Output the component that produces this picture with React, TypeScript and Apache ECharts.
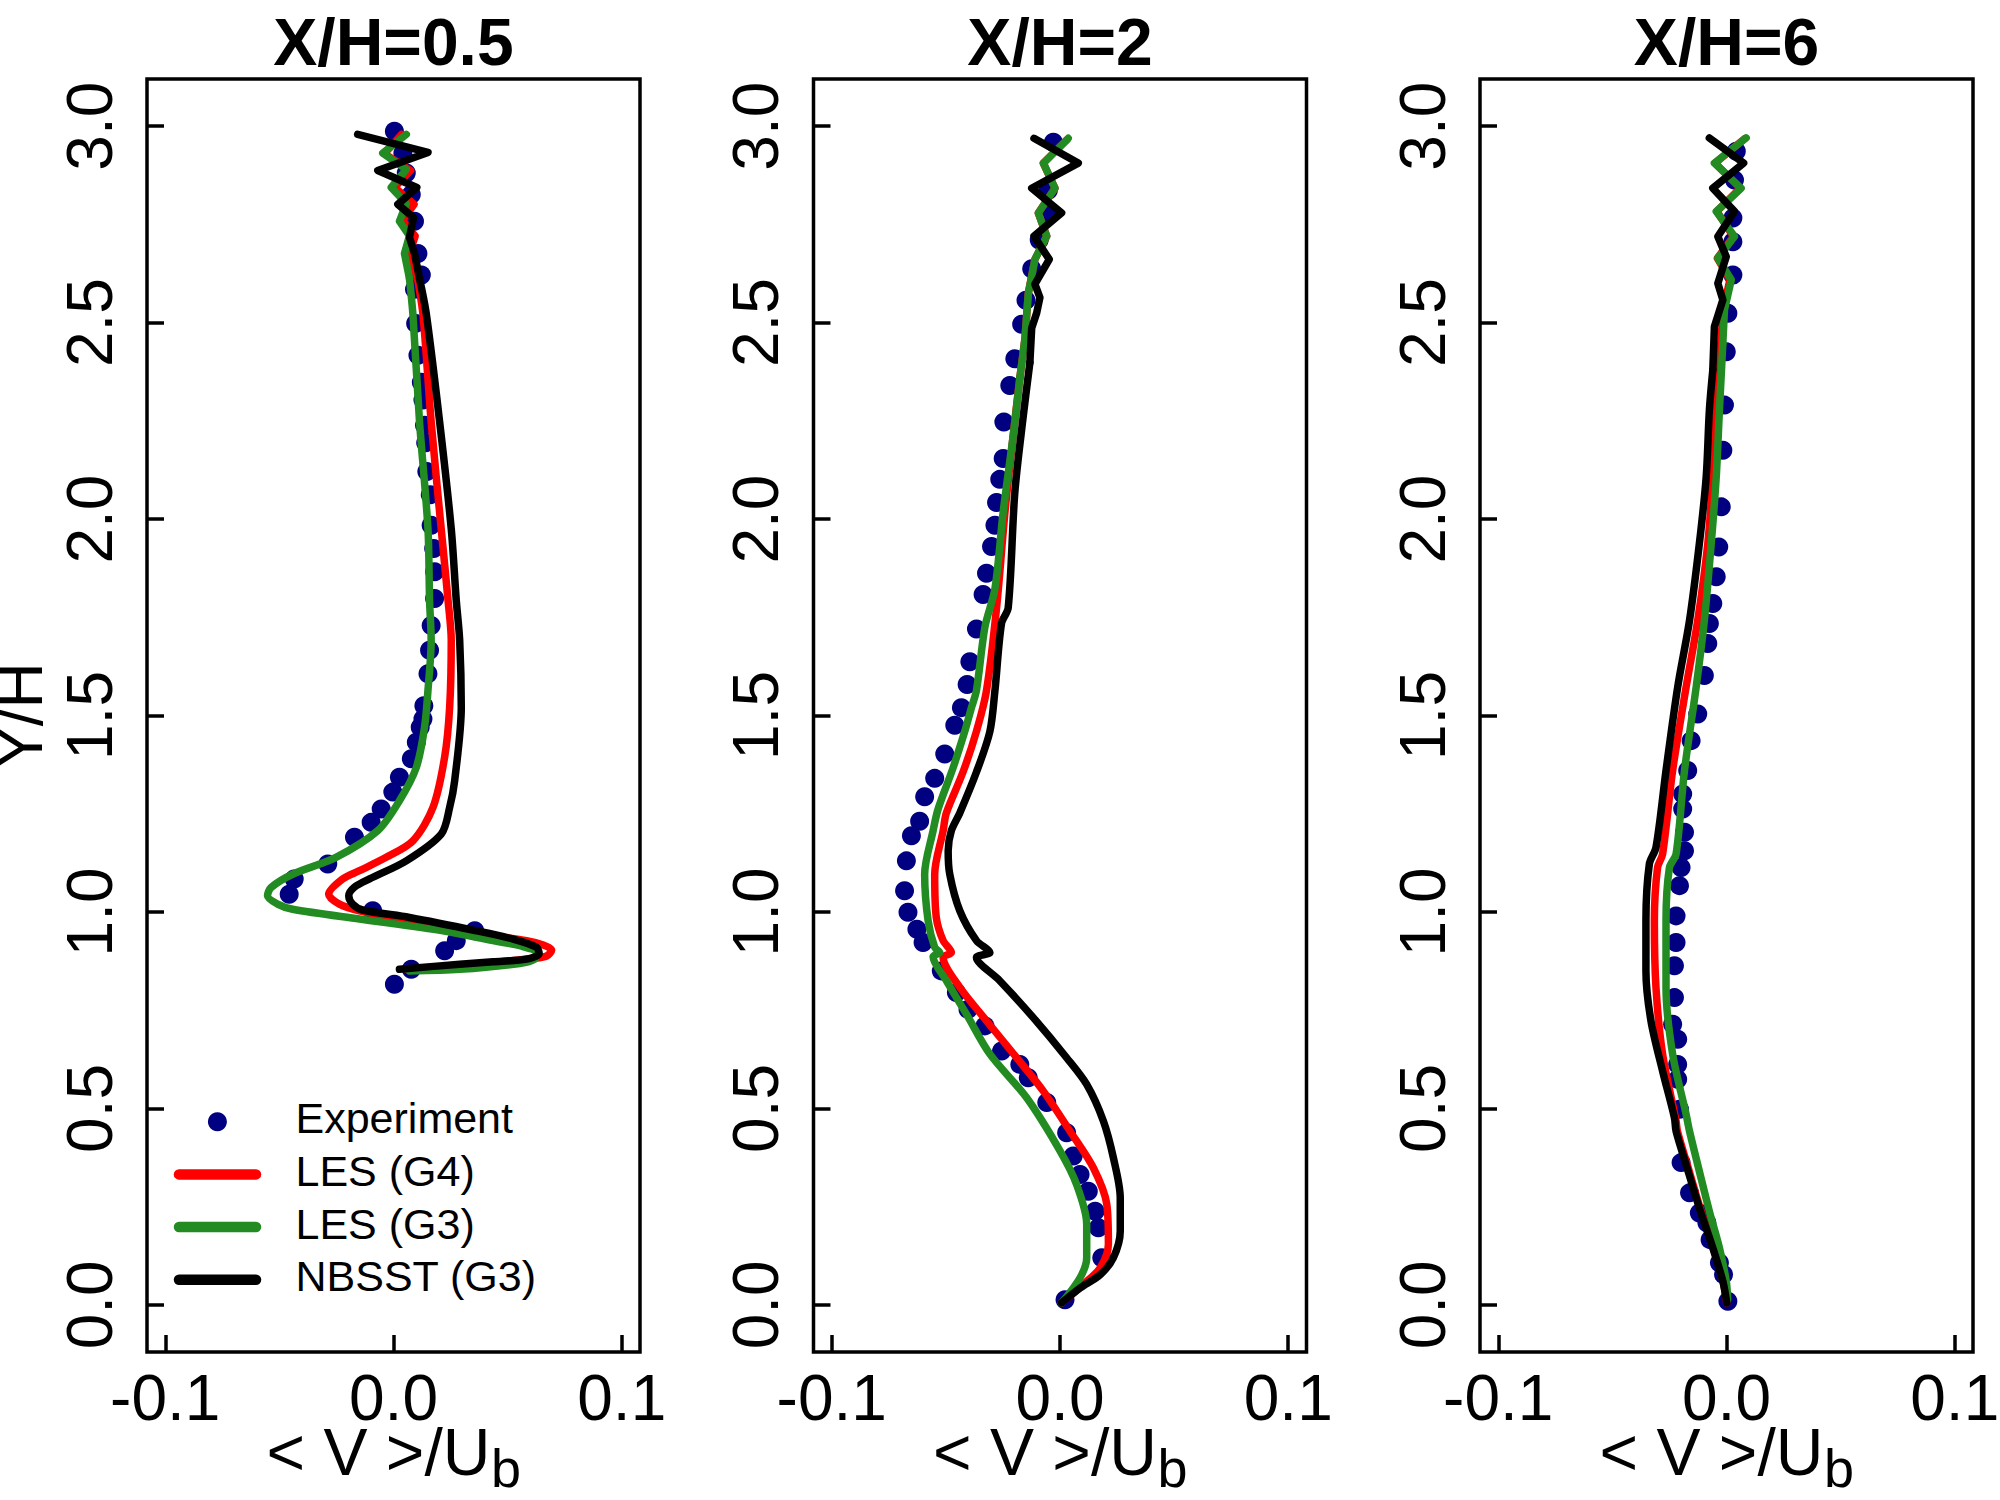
import React, { useEffect, useRef } from "react";
import * as echarts from "echarts";

const FONT = "'Liberation Sans', Arial, Helvetica, sans-serif";

const panelTitles = ["X/H=0.5", "X/H=2", "X/H=6"];
const xTicks = [-0.1, 0, 0.1];
const yTicks = [0, 0.5, 1, 1.5, 2, 2.5, 3];
const legendLabels = ["Experiment", "LES (G4)", "LES (G3)", "NBSST (G3)"];
const seriesColors = ["#000080", "#FF0000", "#228B22", "#000000"];
const xNameMain = "< V >/U";
const xNameSub = "b";
const yName = "Y/H";
// below this Y/H the simulated profiles are smooth (above it they oscillate)
const zigzagLimit = [2.62, 2.45, 2.45];

// ---------- X/H = 0.5 ----------
const p1Exp = [
  [0.0004, 2.987], [0.0041, 2.931], [0.0056, 2.881], [0.0078, 2.826], [0.0092, 2.758],
  [0.0107, 2.676], [0.0122, 2.621], [0.0092, 2.585], [0.0097, 2.498], [0.0107, 2.417],
  [0.0122, 2.348], [0.0129, 2.303], [0.0136, 2.239], [0.0141, 2.194], [0.0146, 2.121],
  [0.0161, 2.062], [0.0165, 1.984], [0.0176, 1.925], [0.018, 1.866], [0.018, 1.798],
  [0.0165, 1.729], [0.0158, 1.666], [0.0151, 1.606], [0.0133, 1.525], [0.0129, 1.491],
  [0.0117, 1.47], [0.01, 1.432], [0.0078, 1.39], [0.0026, 1.343], [-0.0003, 1.305],
  [-0.0054, 1.262], [-0.0098, 1.228], [-0.0171, 1.19], [-0.0288, 1.122], [-0.0435, 1.084],
  [-0.0457, 1.045], [-0.0091, 1.003], [0.0356, 0.952], [0.0275, 0.927], [0.0224, 0.901],
  [0.0078, 0.854], [0.0004, 0.816],
];
const p1LesG4 = [
  [0.0035, 2.979], [-0.004, 2.93], [0.0075, 2.887], [0.0005, 2.844], [0.009, 2.801],
  [0.004, 2.76], [0.0095, 2.72], [0.007, 2.676], [0.0105, 2.612], [0.0129, 2.521],
  [0.0165, 2.248], [0.0209, 1.975], [0.0239, 1.793], [0.0253, 1.691], [0.0246, 1.521],
  [0.0224, 1.394], [0.0173, 1.266], [0.0085, 1.181], [-0.0032, 1.139], [-0.0149, 1.105],
  [-0.0223, 1.084], [-0.0284, 1.045], [-0.0237, 1.02], [-0.0149, 1.003], [0.0026, 0.982],
  [0.0217, 0.961], [0.0436, 0.939], [0.0583, 0.927], [0.0656, 0.916], [0.0693, 0.903],
  [0.0671, 0.888], [0.0612, 0.882], [0.0436, 0.871], [0.029, 0.863], [0.0056, 0.854],
];
const p1LesG3 = [
  [0.0056, 2.979], [-0.0047, 2.931], [0.0056, 2.89], [-0.001, 2.844], [0.0056, 2.803],
  [0.0026, 2.758], [0.007, 2.721], [0.0048, 2.676], [0.007, 2.612], [0.0085, 2.521],
  [0.0114, 2.248], [0.0151, 1.975], [0.0158, 1.793], [0.0165, 1.691], [0.0151, 1.564],
  [0.0136, 1.47], [0.01, 1.368], [0.0026, 1.283], [-0.0069, 1.207], [-0.0252, 1.139],
  [-0.0442, 1.096], [-0.0537, 1.062], [-0.0552, 1.041], [-0.0508, 1.02], [-0.0442, 1.007],
  [-0.0149, 0.982], [0.0217, 0.952], [0.0436, 0.927], [0.0553, 0.914], [0.0627, 0.897],
  [0.0619, 0.88], [0.0553, 0.869], [0.029, 0.854], [0.007, 0.85],
];
const p1Nbsst = [
  [-0.0157, 2.979], [0.0151, 2.933], [-0.0069, 2.887], [0.0102, 2.844], [0.0019, 2.801],
  [0.0088, 2.767], [0.007, 2.717], [0.0092, 2.676], [0.0114, 2.612], [0.0144, 2.521],
  [0.0202, 2.248], [0.0253, 1.975], [0.0275, 1.793], [0.029, 1.691], [0.0297, 1.521],
  [0.0268, 1.334], [0.0246, 1.266], [0.0209, 1.198], [0.0056, 1.13], [-0.0105, 1.084],
  [-0.0171, 1.063], [-0.0196, 1.041], [-0.0179, 1.02], [-0.0135, 1.005], [0.007, 0.986],
  [0.0363, 0.952], [0.0524, 0.931], [0.0627, 0.91], [0.0638, 0.894], [0.0583, 0.88],
  [0.0436, 0.873], [0.029, 0.867], [0.0026, 0.854],
];

// ---------- X/H = 2 ----------
const p2Exp = [
  [-0.0029, 2.959], [-0.0051, 2.837], [-0.0058, 2.779], [-0.0091, 2.71], [-0.0124, 2.637],
  [-0.0149, 2.557], [-0.0168, 2.496], [-0.0198, 2.408], [-0.022, 2.34], [-0.0246, 2.247],
  [-0.0249, 2.154], [-0.0264, 2.101], [-0.0278, 2.042], [-0.0285, 1.984], [-0.03, 1.93],
  [-0.0322, 1.862], [-0.0337, 1.808], [-0.0366, 1.72], [-0.0395, 1.637], [-0.0407, 1.579],
  [-0.0432, 1.52], [-0.0461, 1.475], [-0.0505, 1.402], [-0.0549, 1.34], [-0.0593, 1.293],
  [-0.0615, 1.231], [-0.0651, 1.194], [-0.0673, 1.13], [-0.0681, 1.054], [-0.0666, 0.999],
  [-0.0627, 0.956], [-0.06, 0.922], [-0.052, 0.85], [-0.0454, 0.795], [-0.0403, 0.752],
  [-0.0329, 0.71], [-0.0256, 0.646], [-0.0176, 0.612], [-0.0139, 0.578], [-0.0058, 0.515],
  [0.0029, 0.438], [0.0058, 0.379], [0.0088, 0.332], [0.0124, 0.289], [0.0154, 0.238],
  [0.0168, 0.196], [0.0183, 0.12], [0.0022, 0.013],
];
const p2LesG4 = [
  [0.003, 2.965], [-0.0073, 2.906], [-0.0022, 2.842], [-0.0095, 2.779], [-0.0058, 2.72],
  [-0.011, 2.661], [-0.0139, 2.574], [-0.0154, 2.457], [-0.0176, 2.359], [-0.0205, 2.213],
  [-0.0241, 2.018], [-0.0278, 1.774], [-0.0322, 1.564], [-0.0366, 1.46], [-0.0425, 1.356],
  [-0.0498, 1.252], [-0.0512, 1.207], [-0.0549, 1.096], [-0.0542, 0.986], [-0.0512, 0.927],
  [-0.0476, 0.897], [-0.0512, 0.884], [-0.0439, 0.808], [-0.0322, 0.723], [-0.019, 0.629],
  [-0.0073, 0.544], [0.0044, 0.442], [0.0146, 0.349], [0.0205, 0.256], [0.0212, 0.154],
  [0.0176, 0.094], [0.0102, 0.052], [0.0007, 0.005],
];
const p2LesG3 = [
  [0.0036, 2.969], [-0.0073, 2.906], [-0.0022, 2.842], [-0.0095, 2.779], [-0.0058, 2.72],
  [-0.011, 2.661], [-0.0139, 2.574], [-0.0154, 2.457], [-0.0176, 2.359], [-0.0205, 2.213],
  [-0.0249, 2.018], [-0.0285, 1.823], [-0.0329, 1.725], [-0.0366, 1.564], [-0.0388, 1.52],
  [-0.0417, 1.46], [-0.0469, 1.366], [-0.0534, 1.262], [-0.0556, 1.207], [-0.0593, 1.096],
  [-0.0578, 0.978], [-0.0549, 0.91], [-0.0527, 0.897], [-0.0556, 0.886], [-0.0498, 0.825],
  [-0.041, 0.74], [-0.0307, 0.638], [-0.0146, 0.527], [0.0, 0.392], [0.0073, 0.306],
  [0.0117, 0.205], [0.0117, 0.12], [0.0088, 0.069], [0.0007, 0.005],
];
const p2Nbsst = [
  [-0.0114, 2.969], [0.008, 2.906], [-0.0124, 2.842], [0.0007, 2.779], [-0.0114, 2.72],
  [-0.0047, 2.661], [-0.011, 2.598], [-0.0088, 2.564], [-0.0102, 2.525], [-0.0124, 2.486],
  [-0.0132, 2.398], [-0.0161, 2.262], [-0.0198, 2.067], [-0.0227, 1.774], [-0.0256, 1.735],
  [-0.0285, 1.564], [-0.0307, 1.46], [-0.0366, 1.356], [-0.0439, 1.252], [-0.0476, 1.207],
  [-0.049, 1.156], [-0.0483, 1.096], [-0.0439, 1.003], [-0.0366, 0.927], [-0.0307, 0.897],
  [-0.0366, 0.884], [-0.0264, 0.825], [-0.0117, 0.731], [0.0029, 0.629], [0.0117, 0.561],
  [0.019, 0.468], [0.0234, 0.374], [0.0264, 0.272], [0.0264, 0.188], [0.0234, 0.12],
  [0.0176, 0.077], [0.0088, 0.043], [0.0007, 0.005],
];

// ---------- X/H = 6 ----------
const p3Exp = [
  [0.0043, 2.936], [0.0035, 2.863], [0.0028, 2.766], [0.0028, 2.706], [0.0028, 2.621],
  [0.0006, 2.524], [-0.0001, 2.426], [-0.0009, 2.29], [-0.0016, 2.175], [-0.0023, 2.031],
  [-0.0034, 1.929], [-0.0045, 1.853], [-0.006, 1.785], [-0.0075, 1.734], [-0.0082, 1.683],
  [-0.0097, 1.602], [-0.0126, 1.504], [-0.0155, 1.436], [-0.017, 1.36], [-0.0192, 1.3],
  [-0.0192, 1.262], [-0.0184, 1.203], [-0.0184, 1.156], [-0.0199, 1.113], [-0.0206, 1.067],
  [-0.0221, 0.99], [-0.0221, 0.922], [-0.0228, 0.863], [-0.0228, 0.782], [-0.0236, 0.714],
  [-0.0214, 0.676], [-0.0214, 0.612], [-0.0214, 0.574], [-0.0206, 0.498], [-0.0199, 0.362],
  [-0.0162, 0.285], [-0.0119, 0.234], [-0.0086, 0.209], [-0.0072, 0.166], [-0.0031, 0.107],
  [-0.0013, 0.077], [0.0006, 0.009],
];
const p3LesG4 = [
  [0.008, 2.968], [-0.005, 2.906], [0.006, 2.842], [-0.0042, 2.783], [0.003, 2.719],
  [-0.004, 2.664], [0.0015, 2.609], [-0.0015, 2.532], [-0.0025, 2.447], [-0.0045, 2.277],
  [-0.006, 2.107], [-0.0082, 1.937], [-0.0126, 1.742], [-0.0177, 1.572], [-0.0236, 1.36],
  [-0.028, 1.147], [-0.0302, 1.113], [-0.0316, 0.978], [-0.0309, 0.808], [-0.028, 0.638],
  [-0.0221, 0.468], [-0.0215, 0.442], [-0.0172, 0.357], [-0.0116, 0.247], [-0.0058, 0.145],
  [-0.0015, 0.06], [0.0001, 0.005],
];
const p3LesG3 = [
  [0.0086, 2.97], [-0.0053, 2.906], [0.0064, 2.842], [-0.0045, 2.783], [0.0035, 2.719],
  [-0.0038, 2.664], [0.0021, 2.609], [-0.0009, 2.532], [-0.0016, 2.447], [-0.0031, 2.277],
  [-0.0045, 2.107], [-0.0067, 1.937], [-0.0097, 1.742], [-0.0133, 1.572], [-0.0184, 1.36],
  [-0.0221, 1.147], [-0.025, 1.113], [-0.0265, 0.978], [-0.0265, 0.808], [-0.0236, 0.638],
  [-0.0177, 0.485], [-0.0162, 0.442], [-0.0119, 0.34], [-0.0075, 0.238], [-0.0031, 0.145],
  [-0.0001, 0.06], [0.0005, 0.013],
];
const p3Nbsst = [
  [-0.0075, 2.97], [0.0075, 2.906], [-0.006, 2.842], [0.0035, 2.783], [-0.0038, 2.719],
  [-0.0001, 2.668], [-0.0038, 2.6], [-0.0016, 2.558], [-0.0053, 2.49], [-0.006, 2.379],
  [-0.0075, 2.277], [-0.0089, 2.107], [-0.0119, 1.937], [-0.0162, 1.742], [-0.0214, 1.572],
  [-0.0265, 1.36], [-0.0309, 1.164], [-0.0338, 1.122], [-0.0353, 0.978], [-0.0353, 0.85],
  [-0.0331, 0.723], [-0.028, 0.595], [-0.0228, 0.476], [-0.0221, 0.442], [-0.0177, 0.357],
  [-0.0119, 0.247], [-0.006, 0.145], [-0.0016, 0.06], [0.0001, 0.005],
];

const panels = [
  { exp: p1Exp, g4: p1LesG4, g3: p1LesG3, nb: p1Nbsst },
  { exp: p2Exp, g4: p2LesG4, g3: p2LesG3, nb: p2Nbsst },
  { exp: p3Exp, g4: p3LesG4, g3: p3LesG3, nb: p3Nbsst },
];

// layout (pixels)
const GRID_LEFTS = [147, 813.5, 1480];
const GRID_TOP = 79;
const GRID_W = 493;
const GRID_H = 1273;

export default function App() {
  const ref = useRef<HTMLDivElement>(null);

  useEffect(() => {
    const chart = echarts.init(ref.current as HTMLDivElement, null, { renderer: "svg" });
    const fmt = (v: number) => v.toFixed(1);
    const tickLine = { color: "#000", width: 3.5 };

    const grid = panels.map((_, i) => ({
      left: GRID_LEFTS[i],
      top: GRID_TOP,
      width: GRID_W,
      height: GRID_H,
      show: true,
      borderColor: "#000",
      borderWidth: 3.5,
      backgroundColor: "transparent",
      containLabel: false,
      outerBoundsMode: "none",
    }));

    const xAxis = panels.map((_, i) => ({
      type: "value",
      gridIndex: i,
      min: -0.108,
      max: 0.108,
      axisLine: { show: false, onZero: false },
      splitLine: { show: false },
      axisTick: { show: true, inside: true, length: 17, customValues: xTicks, lineStyle: tickLine },
      axisLabel: {
        show: true,
        customValues: xTicks,
        formatter: fmt,
        fontSize: 64,
        lineHeight: 48,
        fontFamily: FONT,
        color: "#000",
        margin: 21.8,
      },
    }));

    const yAxis = panels.map((_, i) => ({
      type: "value",
      gridIndex: i,
      min: -0.12,
      max: 3.12,
      axisLine: { show: false, onZero: false },
      splitLine: { show: false },
      axisTick: { show: true, inside: true, length: 17, customValues: yTicks, lineStyle: tickLine },
      axisLabel: {
        show: true,
        customValues: yTicks,
        formatter: fmt,
        rotate: 90,
        fontSize: 64,
        fontFamily: FONT,
        color: "#000",
        margin: 25.5,
      },
      name: i === 0 ? yName : "",
      nameLocation: "middle",
      nameGap: 95.5,
      nameRotate: 90,
      nameMoveOverlap: false,
      nameTextStyle: { fontSize: 64, fontFamily: FONT, color: "#000" },
    }));

    const series: any[] = [];
    panels.forEach((p, i) => {
      series.push({
        type: "scatter",
        name: legendLabels[0],
        xAxisIndex: i,
        yAxisIndex: i,
        data: p.exp,
        symbol: "circle",
        symbolSize: 19,
        itemStyle: { color: seriesColors[0], opacity: 1 },
        silent: true,
      });
      [p.g4, p.g3, p.nb].forEach((d, k) => {
        const cut = d.findIndex((pt) => pt[1] < zigzagLimit[i]);
        const parts = [
          { data: d.slice(0, cut + 1), smooth: false },
          { data: d.slice(cut), smooth: 0.3 },
        ];
        parts.forEach((part) => {
          series.push({
            type: "line",
            name: legendLabels[k + 1],
            xAxisIndex: i,
            yAxisIndex: i,
            data: part.data,
            symbol: "none",
            showSymbol: false,
            smooth: part.smooth,
            silent: true,
            lineStyle: { color: seriesColors[k + 1], width: 7.5, cap: "round", join: "round" },
          });
        });
      });
    });

    const title = panelTitles.map((t, i) => ({
      text: t,
      left: GRID_LEFTS[i] + GRID_W / 2,
      top: 8.7,
      padding: 0,
      textAlign: "center",
      textStyle: { fontSize: 66, fontWeight: "bold", fontFamily: FONT, color: "#000" },
    }));

    const graphic: any[] = [];

    // x-axis titles  < V >/U_b  (main text + lowered subscript)
    const MAIN_FS = 66;
    const SUB_FS = 54;
    const mainW = 3.391 * MAIN_FS;
    const subW = 0.556 * SUB_FS;
    GRID_LEFTS.forEach((gl) => {
      const cx = gl + GRID_W / 2;
      const start = cx - (mainW + subW) / 2;
      graphic.push({
        type: "text",
        x: start + mainW,
        y: 1452,
        style: {
          text: xNameMain,
          fontSize: MAIN_FS,
          fontFamily: FONT,
          fill: "#000",
          align: "right",
          verticalAlign: "middle",
          lineHeight: 60,
        },
      });
      graphic.push({
        type: "text",
        x: start + mainW + 0.5,
        y: 1468,
        style: {
          text: xNameSub,
          fontSize: SUB_FS,
          fontFamily: FONT,
          fill: "#000",
          align: "left",
          verticalAlign: "middle",
          lineHeight: 50,
        },
      });
    });

    // legend drawn in the first panel
    const rowY = [1121.8, 1174.4, 1227, 1279.7];
    graphic.push({
      type: "circle",
      shape: { cx: 217.4, cy: rowY[0], r: 9.5 },
      style: { fill: seriesColors[0] },
    });
    for (let k = 1; k < 4; k++) {
      graphic.push({
        type: "line",
        shape: { x1: 179, y1: rowY[k], x2: 256, y2: rowY[k] },
        style: { stroke: seriesColors[k], lineWidth: 10.5, lineCap: "round" },
      });
    }
    legendLabels.forEach((lab, k) => {
      graphic.push({
        type: "text",
        x: 295.5,
        y: rowY[k] - 3.5,
        style: {
          text: lab,
          fontSize: 43,
          fontFamily: FONT,
          fill: "#000",
          align: "left",
          verticalAlign: "middle",
        },
      });
    });

    chart.setOption({
      animation: false,
      backgroundColor: "#ffffff",
      title,
      grid,
      xAxis,
      yAxis,
      series,
      graphic,
    });

    return () => chart.dispose();
  }, []);

  return (
    <div
      ref={ref}
      style={{ position: "absolute", left: 0, top: 0, width: 2000, height: 1500, background: "#fff" }}
    />
  );
}
